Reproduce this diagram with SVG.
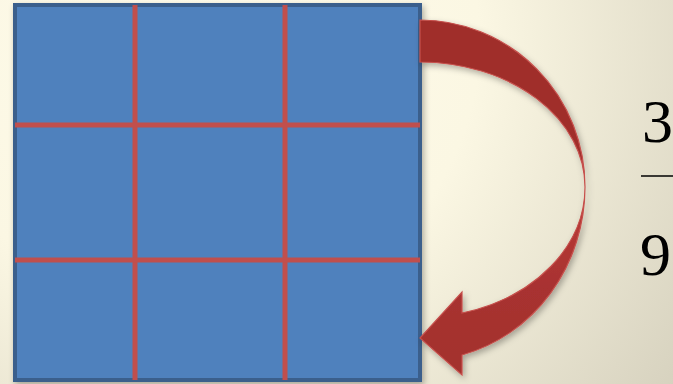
<svg xmlns="http://www.w3.org/2000/svg" width="673" height="384" viewBox="0 0 673 384">
  <style>
    .grid { stroke: #c0504d; stroke-width: 5; }
  </style>
  <defs>
    <radialGradient id="bg" gradientUnits="userSpaceOnUse" cx="200" cy="40" r="620">
      <stop offset="0" stop-color="#fffcec"/>
      <stop offset="0.45" stop-color="#fbf7e3"/>
      <stop offset="1" stop-color="#d3cebb"/>
    </radialGradient>
    <linearGradient id="arrowFill" gradientUnits="userSpaceOnUse" x1="0" y1="20" x2="0" y2="375">
      <stop offset="0" stop-color="#a02e2b"/>
      <stop offset="0.469" stop-color="#a02e2b"/>
      <stop offset="0.48" stop-color="#bc3b37"/>
      <stop offset="0.75" stop-color="#a83230"/>
      <stop offset="1" stop-color="#a3302d"/>
    </linearGradient>
    <filter id="shadow" x="-10%" y="-10%" width="125%" height="125%">
      <feDropShadow dx="2" dy="3" stdDeviation="3" flood-color="#000" flood-opacity="0.3"/>
    </filter>
  </defs>
  <rect width="673" height="384" fill="url(#bg)"/>
  <g id="grid-square" filter="url(#shadow)">
    <rect x="15" y="5" width="405" height="375" fill="#4f81bd" stroke="#3b5f8c" stroke-width="4"/>
    <line class="grid" x1="135" y1="5" x2="135" y2="380"/>
    <line class="grid" x1="285" y1="5" x2="285" y2="380"/>
    <line class="grid" x1="15" y1="125" x2="420" y2="125"/>
    <line class="grid" x1="15" y1="260" x2="420" y2="260"/>
  </g>
  <g id="connectors">
    <path id="curved-arrow" filter="url(#shadow)" fill="url(#arrowFill)" stroke="#c6504c" stroke-width="1.2" stroke-linejoin="miter"
      d="M420,20 A165,167 0 0,1 585,187 A165,174 0 0,1 462,355 L462,375 L420,338 L462,292 L462,313 A165,130 0 0,0 585,187 A165,125 0 0,0 420,62 Z"/>
  </g>
  <g id="fraction">
    <text x="642" y="142" font-family="'Liberation Serif', 'Times New Roman', serif" font-size="62" fill="#000">3</text>
    <line x1="641" y1="176" x2="673" y2="176" stroke="#000" stroke-width="1.5"/>
    <text x="640" y="275" font-family="'Liberation Serif', 'Times New Roman', serif" font-size="62" fill="#000">9</text>
  </g>
</svg>
